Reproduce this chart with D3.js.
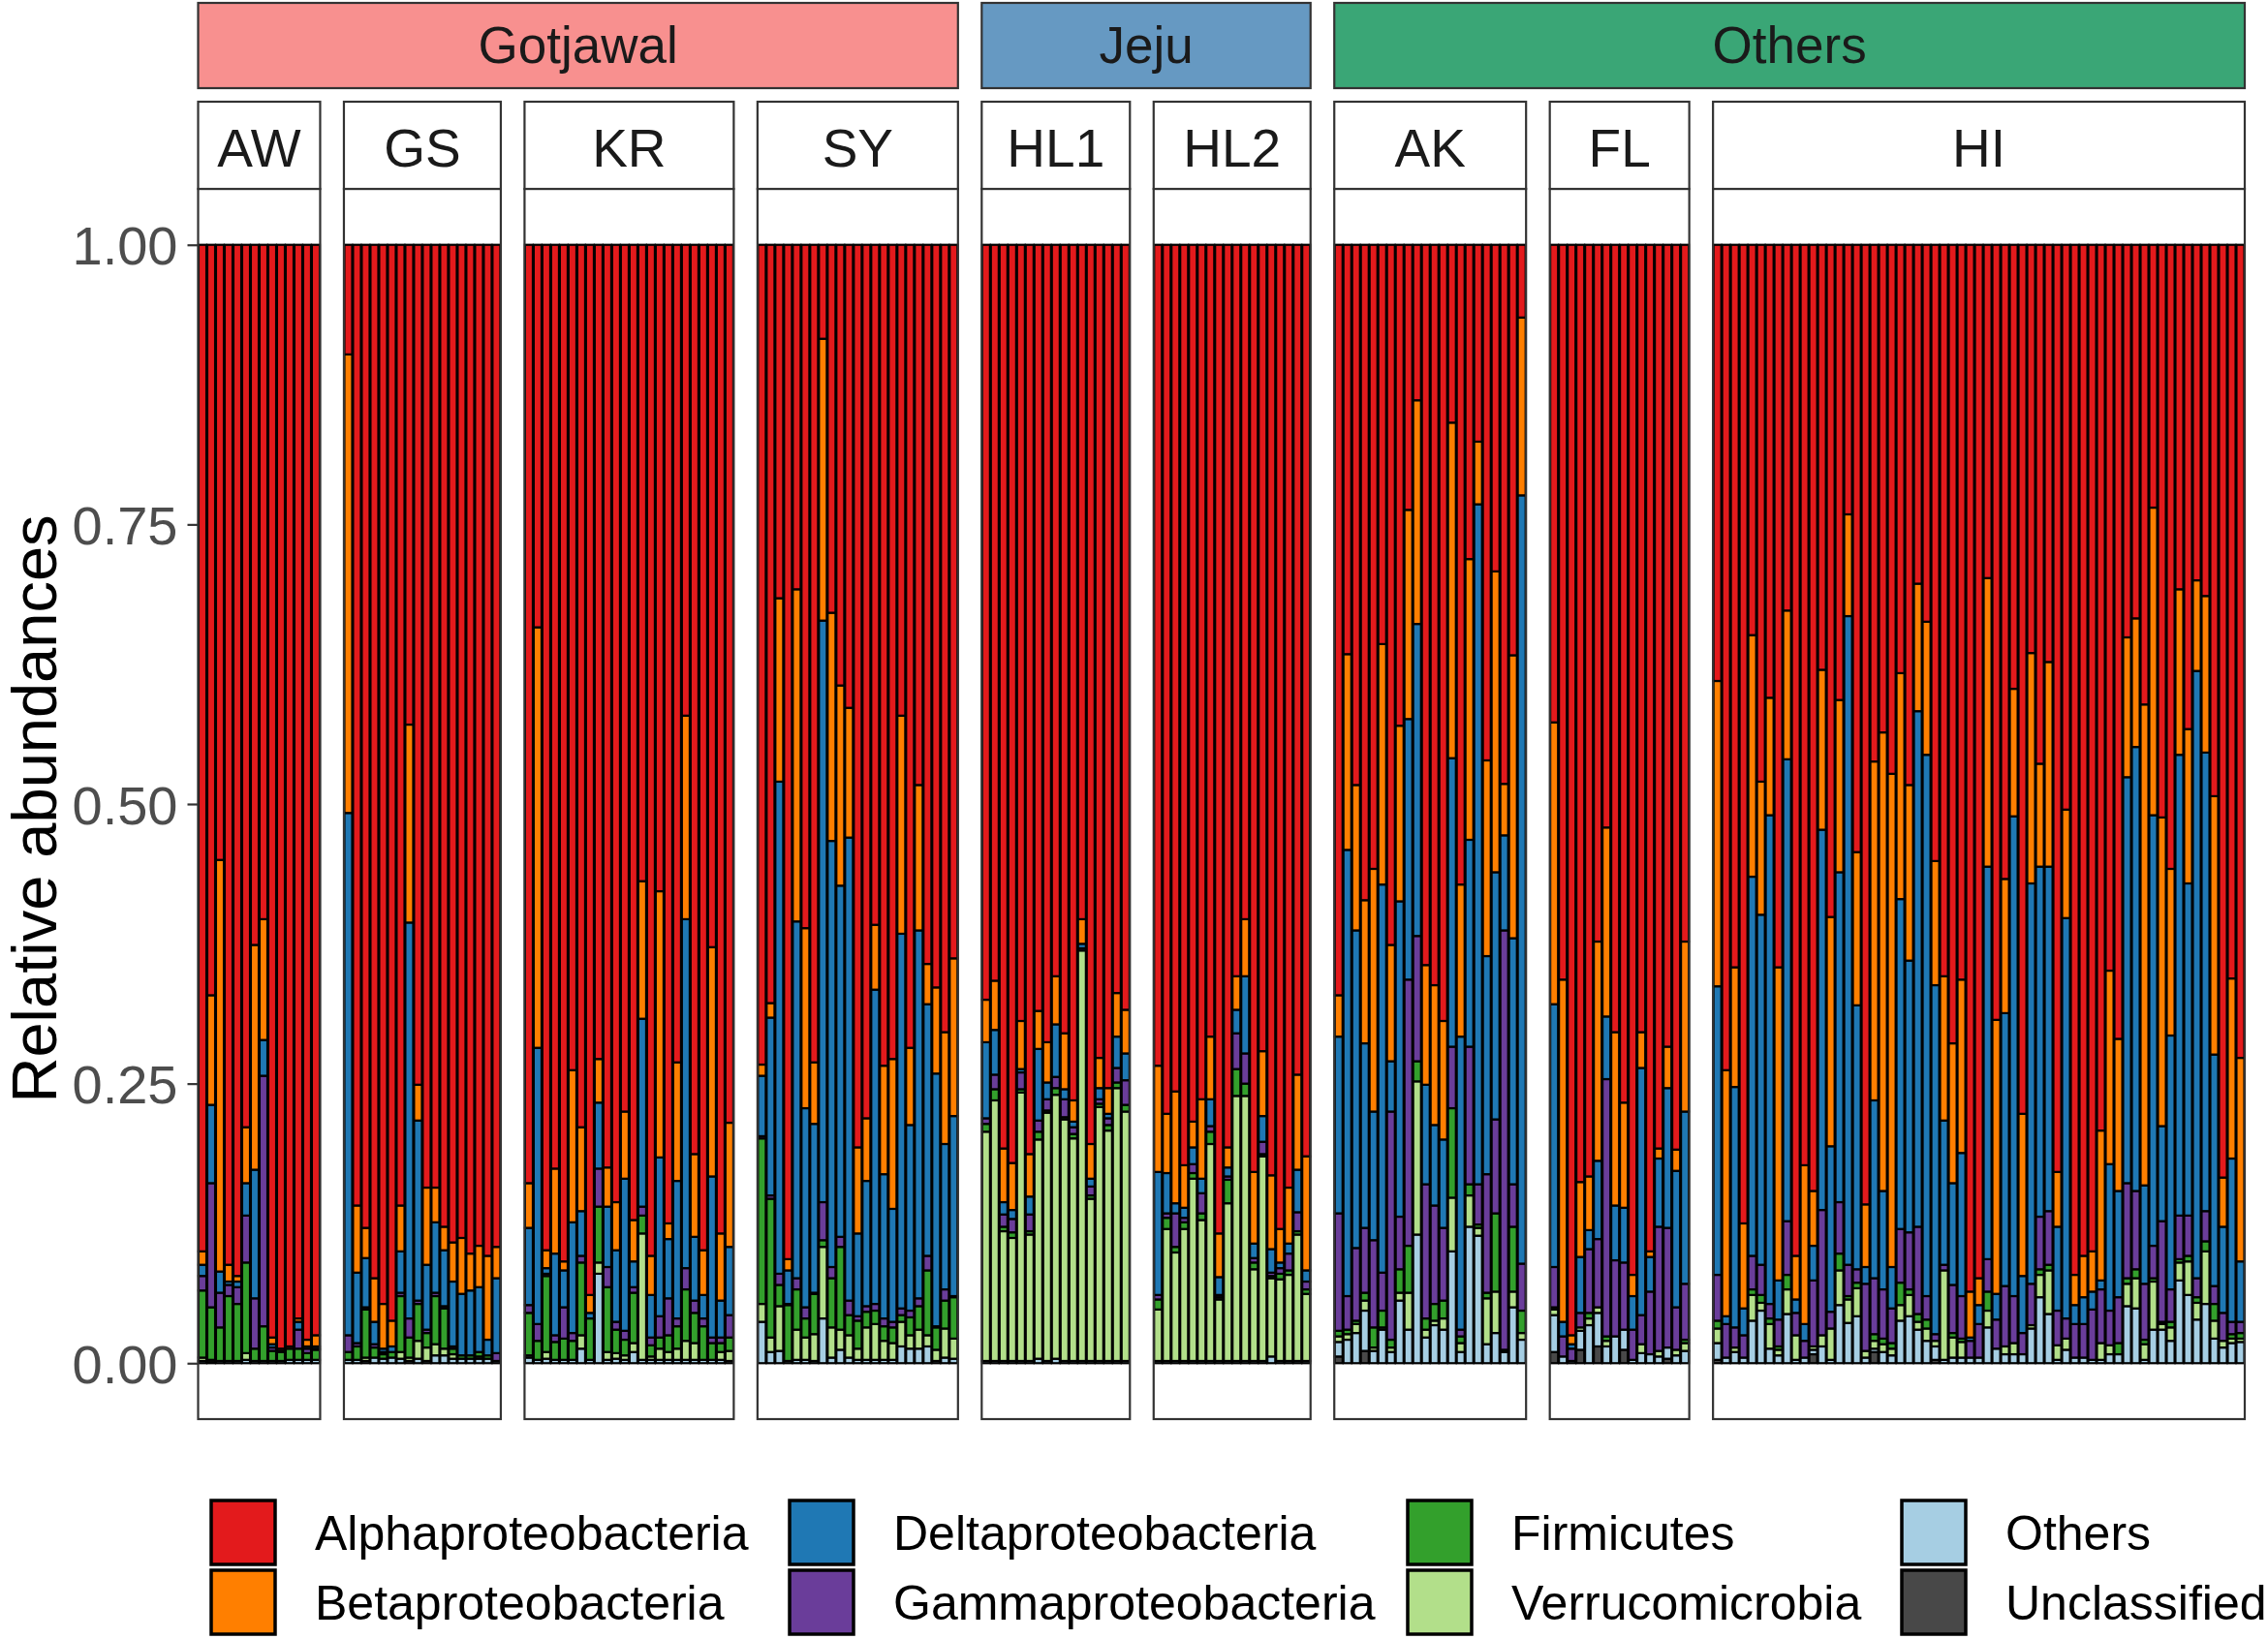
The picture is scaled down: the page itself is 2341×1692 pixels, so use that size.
<!DOCTYPE html>
<html><head><meta charset="utf-8">
<script src="https://cdn.jsdelivr.net/npm/d3@7"></script>
<style>html,body{margin:0;padding:0;background:#fff;} svg{display:block;font-family:"Liberation Sans",Arial,sans-serif;}</style>
</head><body><svg id="chart" width="2341" height="1692"></svg>
<script>
// ---------------- DATA ----------------
const sites = ["AW","GS","KR","SY","HL1","HL2","AK","FL","HI"];
const siteGroups = ["Gotjawal","Gotjawal","Gotjawal","Gotjawal","Jeju","Jeju","Others","Others","Others"];
const groupNames = ["Gotjawal","Jeju","Others"];
const groupColors = ["#F8908F","#6699C2","#3AA676"];
const taxa = ["Alphaproteobacteria","Betaproteobacteria","Deltaproteobacteria","Gammaproteobacteria","Firmicutes","Verrucomicrobia","Others","Unclassified"];
const taxaColors = ["#E31A1C","#FF7F00","#1F78B4","#6A3D9A","#33A02C","#B2DF8A","#A6CEE3","#484848"];
const yTicks = [0,0.25,0.5,0.75,1];
const yTickLabels = ["0.00","0.25","0.50","0.75","1.00"];
const yTitle = "Relative abundances";

// one inner array per site (same order as `sites`), one value per sample
const alpha = [
 [.900,.671,.550,.912,.922,.789,.626,.603,.977,.987,.985,.960,.979,.975],
 [.098,.859,.879,.924,.947,.962,.859,.429,.751,.843,.843,.878,.892,.888,.902,.895,.904,.896],
 [.839,.342,.899,.826,.909,.738,.789,.939,.728,.825,.856,.775,.872,.569,.904,.578,.875,.731,.421,.813,.899,.628,.884,.785],
 [.733,.678,.316,.907,.308,.611,.731,.084,.329,.394,.414,.807,.781,.608,.734,.728,.421,.718,.483,.643,.664,.704,.638],
 [.675,.658,.808,.821,.694,.813,.685,.713,.654,.705,.765,.603,.804,.727,.754,.669,.684],
 [.734,.777,.757,.823,.784,.764,.708,.884,.807,.654,.603,.829,.721,.832,.880,.843,.742,.815],
 [.671,.366,.483,.586,.558,.357,.626,.430,.237,.139,.644,.662,.694,.159,.572,.281,.176,.461,.292,.482,.367,.065],
 [.427,.657,.975,.838,.833,.623,.521,.704,.767,.921,.704,.900,.808,.717,.809,.623],
 [.390,.738,.646,.875,.349,.480,.405,.646,.327,.904,.823,.846,.380,.601,.407,.241,.543,.858,.462,.436,.473,.383,.483,.303,.337,.551,.654,.714,.657,.936,.924,.298,.693,.567,.397,.777,.365,.464,.373,.829,.505,.921,.904,.900,.792,.649,.710,.351,.334,.411,.235,.512,.558,.308,.433,.300,.314,.493,.834,.656,.727]
];
const beta = [
 [.012,.098,.368,.015,.005,.050,.201,.108,.006,.002,.002,.003,.006,.010],
 [.410,.060,.027,.039,.040,.023,.041,.177,.032,.069,.031,.021,.035,.050,.033,.037,.075,.028],
 [.040,.376,.016,.076,.008,.136,.075,.016,.039,.035,.043,.060,.037,.123,.035,.238,.014,.106,.182,.074,.040,.205,.060,.111],
 [.010,.013,.164,.010,.297,.161,.055,.252,.204,.179,.116,.077,.056,.058,.097,.134,.195,.069,.130,.036,.077,.100,.141],
 [.038,.044,.048,.042,.043,.038,.034,.036,.043,.050,.019,.022,.031,.027,.023,.039,.039],
 [.095,.053,.100,.038,.023,.071,.056,.039,.018,.030,.051,.064,.058,.066,.030,.050,.085,.102],
 [.037,.175,.130,.128,.217,.215,.104,.157,.187,.200,.107,.125,.106,.300,.136,.251,.056,.175,.269,.046,.253,.159],
 [.252,.306,.008,.067,.048,.196,.169,.155,.094,.019,.032,.005,.009,.037,.019,.152],
 [.273,.220,.107,.076,.216,.119,.105,.280,.133,.039,.142,.049,.143,.205,.154,.091,.137,.056,.303,.410,.441,.202,.157,.114,.119,.111,.129,.125,.155,.041,.024,.258,.245,.120,.114,.145,.206,.092,.183,.049,.097,.027,.037,.036,.134,.173,.136,.125,.115,.430,.275,.276,.149,.148,.138,.081,.140,.231,.044,.161,.182]
];
const delta = [
 [.010,.070,.019,.003,.005,.029,.115,.032,.003,.001,0,.007,.002,.002],
 [.467,.063,.044,.020,.003,.005,.037,.354,.161,.058,.063,.050,.058,.055,.058,.058,.014,.067],
 [.069,.247,.005,.073,.033,.099,.040,.005,.059,.054,.064,.136,.023,.168,.038,.142,.053,.123,.312,.057,.021,.144,.033,.061],
 [.054,.159,.440,.030,.319,.178,.151,.520,.381,.314,.414,.074,.112,.281,.129,.101,.335,.166,.329,.225,.226,.130,.161],
 [.068,.040,.011,.008,.003,.016,.064,.015,.047,.009,.005,.004,.007,.010,.004,.028,.024],
 [.110,.036,.009,.009,.015,.013,.024,.016,.008,.021,.069,.013,.023,.021,.005,.009,.038,.010],
 [.158,.399,.284,.165,.115,.347,.045,.282,.233,.279,.089,.072,.079,.258,.262,.185,.608,.195,.221,.085,.220,.687],
 [.235,.013,.004,.050,.017,.070,.056,.049,.049,.030,.221,.031,.061,.125,.122,.154],
 [.258,.007,.215,.024,.339,.313,.437,.035,.413,.012,.015,.031,.340,.148,.295,.580,.236,.015,.159,.088,.037,.295,.243,.461,.484,.312,.129,.091,.128,.003,.017,.351,.023,.244,.429,.051,.358,.313,.308,.075,.358,.017,.024,.016,.008,.131,.095,.363,.397,.088,.385,.085,.227,.412,.297,.543,.410,.207,.077,.146,.054]
];
const gamma = [
 [.013,.111,.031,.010,.015,.042,.045,.224,.003,0,0,.017,.004,.001],
 [.015,.003,.002,.003,.002,0,.003,.017,.003,.003,.003,.002,.002,0,0,0,0,.007],
 [.007,.015,.002,.006,.028,.007,.006,0,.034,.018,.007,.008,.005,.008,.007,.019,.033,.007,.019,.011,.007,.005,.005,.020],
 [.002,.003,.010,.001,.010,.010,.001,.034,.010,.009,.013,.004,.005,.006,.007,.005,.006,.006,.007,.013,.001,.010,.001],
 [.005,.013,.011,.012,.015,.015,.010,.010,.010,.016,.006,.002,.008,.004,.006,.013,.022],
 [.004,.004,.030,.004,.008,.018,.005,.002,.003,.032,.027,.004,.011,.003,.005,.015,.017,.007],
 [.105,.030,.065,.058,.078,.034,.204,.047,.238,.112,.120,.088,.065,.055,.006,.123,.036,.106,.084,.375,.038,.042],
 [.036,.018,.011,.013,.057,.061,.230,.068,.060,.027,.026,.056,.111,.107,.038,.050],
 [.041,.030,.018,.020,.030,.027,.013,.024,.048,.020,.015,.059,.112,.015,.046,.028,.012,.060,.050,.044,.031,.048,.051,.078,.021,.006,.005,.043,.038,.015,.030,.029,.026,.054,.042,.019,.037,.047,.048,.031,.018,.030,.030,.045,.048,.031,.041,.085,.070,.050,.029,.090,.029,.039,.036,.017,.027,.016,.025,.011,.010]
];
const firmicutes = [
 [.060,.047,.030,.058,.051,.081,.011,.031,.009,.008,.010,.010,.006,.009],
 [.007,.012,.043,.009,.004,.005,.050,.018,.033,.013,.043,.036,.005,.003,.003,.004,.003,0],
 [.038,.017,.068,.016,.019,.017,.065,.037,.050,.058,.021,.014,.045,.016,.010,.010,.015,.020,.046,.027,.030,.015,.008,.012],
 [.148,.124,.019,.050,.036,.017,.036,.006,.044,.074,.018,.025,.014,.012,.013,.014,.006,.016,.021,.058,.020,.025,.037],
 [.007,.010,.004,.005,.003,.003,.007,.002,.006,.002,.004,0,.003,.003,.005,.005,.006],
 [.009,.010,.005,.006,.005,.006,.011,.002,.021,.024,.011,.006,.002,.002,.005,.004,.003,.004],
 [.005,.004,.003,.007,.018,.015,.007,.021,.042,.018,.010,.015,.016,.080,.006,.010,.003,.005,.070,.002,.058,.020],
 [.002,0,0,0,.005,0,.004,0,0,0,0,0,0,0,0,.003],
 [.007,0,0,0,.005,.007,.005,.003,.013,0,0,0,0,0,.015,.003,.005,0,.006,.005,.005,.020,.005,.007,.008,0,0,.004,.003,0,0,.017,0,0,0,0,0,.005,.005,0,0,0,0,0,0,0,.010,.005,.008,.004,.003,.002,.005,.003,.005,.005,.009,.015,0,.004,.005]
];
const verrucomicrobia = [
 [.003,.002,0,0,0,.006,0,0,0,0,0,0,0,0],
 [0,0,.003,0,0,0,.006,.003,.016,.012,.010,.006,.004,0,0,.002,0,0],
 [.002,0,.006,0,0,0,.012,0,.010,.007,.005,.004,.008,.113,.003,.010,.007,.010,.017,.015,0,0,.007,.009],
 [.016,.013,.040,0,.027,.020,.024,.064,.027,.018,.020,.010,.029,.032,.017,.015,.022,.012,.017,.010,.010,.026,.018],
 [.205,.233,.116,.110,.240,.113,.196,.222,.236,.216,.199,.367,.145,.227,.206,.244,.223],
 [.046,.118,.097,.118,.163,.126,.194,.055,.141,.237,.237,.082,.183,.070,.073,.077,.113,.060],
 [.005,.005,.008,.009,.003,.002,.004,.007,.033,.137,.007,.004,.010,.048,.008,.028,.007,.041,.037,0,.014,.006],
 [.005,0,0,.003,.006,.005,.005,0,0,0,.008,0,.005,0,.005,.007],
 [.013,0,.004,0,.023,.007,.022,.005,.022,.022,0,.003,.010,.028,.031,.021,.025,.006,.007,.007,.006,.014,.019,.007,.011,.005,.080,.018,.014,0,0,.015,0,.007,.010,0,.003,.020,.039,.013,.010,0,0,0,.015,.008,0,.020,.027,.014,.043,.005,.012,.016,.030,.015,.047,.016,.006,.004,.003]
];
const othersTaxa = [
 [.002,.001,.002,.002,.002,.003,.002,.002,.002,.002,.003,.003,.003,.003],
 [.003,.003,.002,.005,.004,.005,.004,.002,.004,.002,.007,.007,.004,.004,.004,.004,.004,.002],
 [.005,.003,.004,.003,.003,.003,.013,.003,.080,.003,.004,.003,.010,.003,.003,.003,.003,.003,.003,.003,.003,.003,.003,.002],
 [.037,.010,.011,.002,.003,.003,.002,.040,.005,.012,.005,.003,.003,.003,.003,.003,.015,.013,.013,.015,.002,.005,.004],
 [.002,.002,.002,.002,.002,.002,.004,.002,.004,.002,.002,.002,.002,.002,.002,.002,.002],
 [.002,.002,.002,.002,.002,.002,.002,.002,.002,.002,.002,.002,.002,.006,.002,.002,.002,.002],
 [.013,.021,.027,.036,.011,.030,.010,.056,.030,.115,.023,.034,.030,.100,.010,.122,.114,.017,.027,.010,.050,.021],
 [.033,.006,.002,.017,.034,.030,.015,.024,.018,.003,.009,.008,.006,.010,.007,.011],
 [.015,.005,.010,.005,.038,.047,.013,.007,.044,.003,.005,.004,.015,.003,.052,.036,.042,.005,.003,.010,.007,.038,.042,.030,.020,.012,.003,.005,.005,.005,.005,.032,.013,.008,.008,.008,.031,.059,.044,.003,.012,.005,.005,.003,.003,.008,.008,.051,.049,.003,.030,.030,.020,.074,.061,.039,.053,.022,.014,.018,.019]
];
const unclassified = [
 [0,0,0,0,0,0,0,0,0,0,0,0,0,0],
 [0,0,0,0,0,0,0,0,0,0,0,0,0,0,0,0,0,0],
 [0,0,0,0,0,0,0,0,0,0,0,0,0,0,0,0,0,0,0,0,0,0,0,0],
 [0,0,0,0,0,0,0,0,0,0,0,0,0,0,0,0,0,0,0,0,0,0,0],
 [0,0,0,0,0,0,0,0,0,0,0,0,0,0,0,0,0],
 [0,0,0,0,0,0,0,0,0,0,0,0,0,0,0,0,0,0],
 [.006,0,0,.011,0,0,0,0,0,0,0,0,0,0,0,0,0,0,0,0,0,0],
 [.010,0,0,.012,0,.015,0,0,.012,0,0,0,0,.004,0,0],
 [.003,0,0,0,0,0,0,0,0,0,0,.008,0,0,0,0,0,0,.010,0,0,0,0,0,0,.003,0,0,0,0,0,0,0,0,0,0,0,0,0,0,0,0,0,0,0,0,0,0,0,0,0,0,0,0,0,0,0,0,0,0,0]
];
const seriesArrays = [alpha, beta, delta, gamma, firmicutes, verrucomicrobia, othersTaxa, unclassified];

// ---------------- LAYOUT ----------------
const svg = d3.select("#chart");
const plotLeft = 204.5, plotRight = 2317, panelGap = 24.5;
const panelTop = 195, panelBottom = 1465;
const stripTop = 105, groupTop = 3, groupBottom = 91;
const borderCol = "#333333";

const counts = sites.map((s,i) => alpha[i].length);
const total = d3.sum(counts);
const unit = (plotRight - plotLeft - panelGap*(sites.length-1)) / total;

const y = d3.scaleLinear().domain([-0.05, 1.05]).range([panelBottom, panelTop]);

const stackKeys = taxa.slice().reverse(); // bottom -> top
const stack = d3.stack().keys(stackKeys);
const color = d3.scaleOrdinal().domain(taxa).range(taxaColors);

let xCursor = plotLeft;
const panels = sites.map((site, i) => {
  const n = counts[i];
  const w = n * unit;
  const p = {site, i, x0: xCursor, x1: xCursor + w, n, group: siteGroups[i]};
  xCursor += w + panelGap;
  return p;
});

panels.forEach(p => {
  const rows = d3.range(p.n).map(j => {
    const r = {idx: j};
    taxa.forEach((t, k) => { r[t] = seriesArrays[k][p.i][j]; });
    return r;
  });
  const x = d3.scaleBand().domain(d3.range(p.n)).range([p.x0, p.x1]).paddingInner(0.1).paddingOuter(0.05);
  const g = svg.append("g");
  g.append("rect").attr("x", p.x0).attr("y", panelTop).attr("width", p.x1-p.x0).attr("height", panelBottom-panelTop).attr("fill", "#fff");
  const layers = stack(rows);
  layers.forEach(layer => {
    g.append("g").selectAll("rect").data(layer.filter(d => d[1] - d[0] > 0)).join("rect")
      .attr("x", d => x(d.data.idx))
      .attr("width", x.bandwidth())
      .attr("y", d => y(d[1]))
      .attr("height", d => y(d[0]) - y(d[1]))
      .attr("fill", color(layer.key))
      .attr("stroke", "#000")
      .attr("stroke-width", 2.2);
  });
  g.append("rect").attr("x", p.x0).attr("y", panelTop).attr("width", p.x1-p.x0).attr("height", panelBottom-panelTop)
    .attr("fill", "none").attr("stroke", borderCol).attr("stroke-width", 2.2);
  g.append("rect").attr("x", p.x0).attr("y", stripTop).attr("width", p.x1-p.x0).attr("height", panelTop-stripTop)
    .attr("fill", "#fff").attr("stroke", borderCol).attr("stroke-width", 2.2);
  g.append("text").attr("x", (p.x0+p.x1)/2).attr("y", 172).attr("text-anchor", "middle")
    .attr("font-size", 55).attr("fill", "#1A1A1A").text(p.site);
});

groupNames.forEach((gname, gi) => {
  const ps = panels.filter(p => p.group === gname);
  const x0 = ps[0].x0, x1 = ps[ps.length-1].x1;
  svg.append("rect").attr("x", x0).attr("y", groupTop).attr("width", x1-x0).attr("height", groupBottom-groupTop)
    .attr("fill", groupColors[gi]).attr("stroke", borderCol).attr("stroke-width", 2.2);
  svg.append("text").attr("x", (x0+x1)/2).attr("y", 65).attr("text-anchor", "middle")
    .attr("font-size", 53).attr("fill", "#1A1A1A").text(gname);
});

const yAxis = d3.axisLeft(y).tickValues(yTicks).tickFormat((d,i) => yTickLabels[i]).tickSize(11).tickPadding(10);
const ax = svg.append("g").attr("transform", `translate(${plotLeft},0)`).call(yAxis);
ax.select(".domain").remove();
ax.selectAll(".tick line").attr("stroke", borderCol).attr("stroke-width", 2.2);
ax.selectAll(".tick text").attr("fill", "#4D4D4D").attr("font-size", 56)
  .attr("font-family", '"Liberation Sans",Arial,sans-serif').attr("dy", "0.36em");

svg.append("text").attr("transform", "translate(58,835) rotate(-90)").attr("text-anchor", "middle")
  .attr("font-size", 65).attr("fill", "#000").text(yTitle);

const legCols = [218, 815, 1453, 1963];
const legRows = [1549, 1621];
const keySize = 66;
taxa.forEach((t, k) => {
  const c = Math.floor(k / 2), r = k % 2;
  svg.append("rect").attr("x", legCols[c]).attr("y", legRows[r]).attr("width", keySize).attr("height", keySize)
    .attr("fill", taxaColors[k]).attr("stroke", "#000").attr("stroke-width", 3.5);
  svg.append("text").attr("x", legCols[c] + keySize + 41).attr("y", legRows[r] + keySize/2 + 18)
    .attr("font-size", 50).attr("fill", "#000").text(t);
});
</script>
</body></html>
